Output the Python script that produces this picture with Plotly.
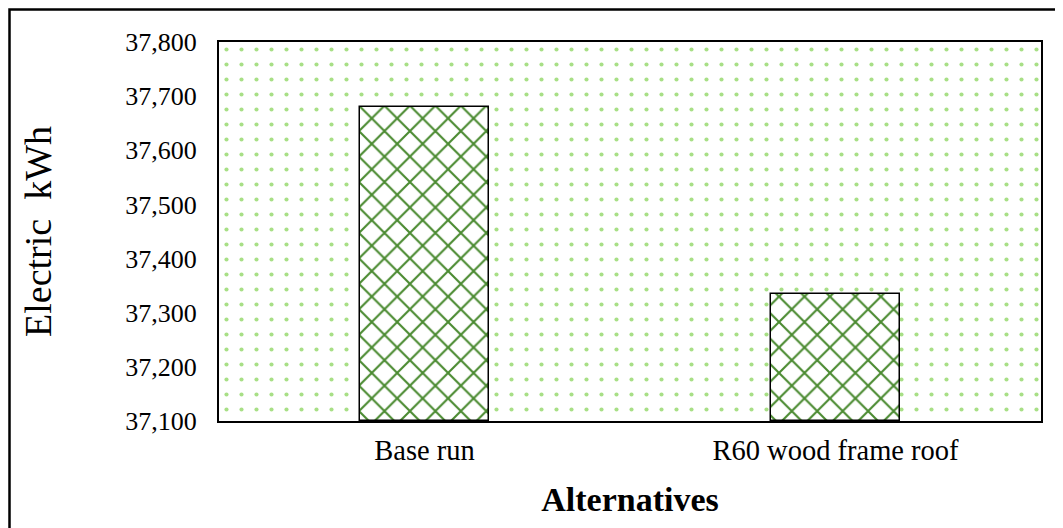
import plotly.graph_objects as go

categories = ["Base run", "R60 wood frame roof"]
values = [37680, 37335]
y_ticks = [37100, 37200, 37300, 37400, 37500, 37600, 37700, 37800]
y_range = [37100, 37800]

FONT = "Liberation Serif, Times New Roman, serif"

# the page body adds an 8px offset, so the figure is laid out 8px in from the window
FIG_W, FIG_H = 1055, 520
M_L, M_T, M_R, M_B = 211, 34, 22, 107
PLOT_W = FIG_W - M_L - M_R
PLOT_H = FIG_H - M_T - M_B

fig = go.Figure()

# dotted background filling the plot area (on numeric axis x)
fig.add_trace(go.Bar(
    x=[0.5], y=[y_range[1] - y_range[0]], base=[y_range[0]], width=[1],
    xaxis="x", yaxis="y",
    marker=dict(color="white", line=dict(width=0),
                pattern=dict(shape=".", fgcolor="#a8df86", bgcolor="white",
                             size=15, solidity=0.06, fgopacity=1)),
    hoverinfo="skip", showlegend=False,
))

# actual bars on category axis x2 (overlaying, drawn on top)
fig.add_trace(go.Bar(
    x=categories, y=[v - y_range[0] for v in values], base=y_range[0],
    width=0.314, xaxis="x2", yaxis="y",
    marker=dict(color="white", line=dict(color="black", width=1.5),
                pattern=dict(shape="x", fgcolor="#4a8a30", bgcolor="white",
                             size=18, solidity=0.22, fgopacity=1)),
    showlegend=False,
))

fig.update_layout(
    width=FIG_W, height=FIG_H,
    margin=dict(l=M_L, r=M_R, t=M_T, b=M_B, autoexpand=False),
    paper_bgcolor="white", plot_bgcolor="white",
    bargap=0, barmode="overlay",
    font=dict(family=FONT, color="black"),
    xaxis=dict(range=[0, 1], visible=False, fixedrange=True, automargin=False),
    xaxis2=dict(
        type="category", range=[-0.5, 1.5], overlaying="x", side="bottom",
        showline=True, linecolor="black", linewidth=2, mirror=True,
        ticks="", tickfont=dict(size=28.5, family=FONT), showgrid=False,
        ticklabelstandoff=3, automargin=False,
        title=dict(text="<b>Alternatives</b>", font=dict(size=34, family=FONT), standoff=22),
    ),
    yaxis=dict(
        range=y_range, tickvals=y_ticks, tickformat=",d",
        showline=True, linecolor="black", linewidth=2, mirror=True,
        ticks="", showgrid=False, tickfont=dict(size=26, family=FONT),
        ticklabelstandoff=15, automargin=False,
        title=dict(text="Electric  kWh", font=dict(size=38, family=FONT), standoff=62),
    ),
    shapes=[dict(type="rect", xref="paper", yref="paper",
                 x0=-(M_L - 1.5) / PLOT_W, x1=1.2,
                 y0=-0.5, y1=(FIG_H - M_B - 1.5) / PLOT_H,
                 line=dict(color="black", width=2.5), fillcolor="rgba(0,0,0,0)",
                 layer="below")],
)

fig.write_html("out.html")
